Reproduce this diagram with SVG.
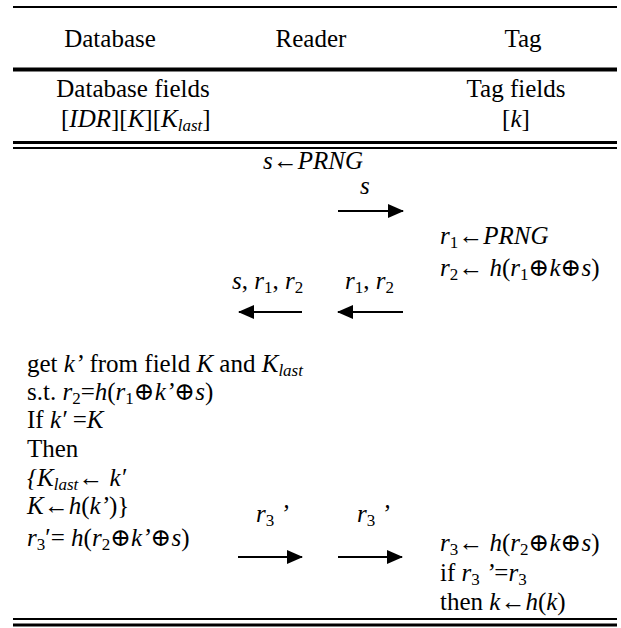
<svg xmlns="http://www.w3.org/2000/svg" width="621" height="628" viewBox="0 0 621 628">
<style>
text{font-size:25px;fill:#000}
.i{font-style:italic}
.sub{font-size:17px}
.rule{stroke:#000}
.arr{stroke:#000;stroke-width:2;fill:none}
</style>
<defs>
<marker id="ah" viewBox="0 0 16 14" refX="15" refY="7" markerWidth="16" markerHeight="14" markerUnits="userSpaceOnUse" orient="auto">
<path d="M0,0 L16,7 L0,14 z" fill="#000"/>
</marker>
</defs>
<rect width="621" height="628" fill="#fff"/>
<g id="rules">
<line class="rule" x1="13" y1="7" x2="617" y2="7" stroke-width="2"/>
<line class="rule" x1="13" y1="69.5" x2="617" y2="69.5" stroke-width="4"/>
<line class="rule" x1="13" y1="142.5" x2="617" y2="142.5" stroke-width="3"/>
<line class="rule" x1="13" y1="148" x2="617" y2="148" stroke-width="2"/>
<line class="rule" x1="13" y1="619" x2="617" y2="619" stroke-width="2"/>
<line class="rule" x1="13" y1="625" x2="617" y2="625" stroke-width="3"/>
</g>
<g font-family="Liberation Serif, Tinos, Times New Roman, Noto Serif, DejaVu Serif, serif">
<g id="header">
<text x="110" y="47" text-anchor="middle">Database</text>
<text x="311" y="47" text-anchor="middle">Reader</text>
<text x="523" y="47" text-anchor="middle">Tag</text>
</g>
<g id="database-fields">
<text x="133" y="97" text-anchor="middle">Database fields</text>
<text x="61" y="127">[<tspan class="i">IDR</tspan>][<tspan class="i">K</tspan>][<tspan class="i">K</tspan><tspan class="i sub" dy="4">last</tspan><tspan dy="-4">]</tspan></text>
</g>
<g id="tag-fields">
<text x="516" y="97" text-anchor="middle">Tag fields</text>
<text x="516" y="127" text-anchor="middle">[<tspan class="i">k</tspan>]</text>
</g>
<g id="reader-init">
<text x="263" y="169" class="i">s←PRNG</text>
</g>
<g id="tag-step1">
<text x="440" y="244"><tspan class="i">r</tspan><tspan class="sub" dy="4">1</tspan><tspan class="i" dy="-4">←PRNG</tspan></text>
<text x="440" y="276"><tspan class="i">r</tspan><tspan class="sub" dy="4">2</tspan><tspan dy="-4">← </tspan><tspan class="i">h</tspan>(<tspan class="i">r</tspan><tspan class="sub" dy="4">1</tspan><tspan dy="-4">⊕</tspan><tspan class="i">k</tspan>⊕<tspan class="i">s</tspan>)</text>
</g>
<g id="database-step">
<text x="27" y="372">get <tspan class="i">k’</tspan> from field <tspan class="i">K</tspan> and <tspan class="i">K</tspan><tspan class="i sub" dy="4">last</tspan></text>
<text x="27" y="400">s.t. <tspan class="i">r</tspan><tspan class="sub" dy="4">2</tspan><tspan dy="-4">=</tspan><tspan class="i">h</tspan>(<tspan class="i">r</tspan><tspan class="sub" dy="4">1</tspan><tspan dy="-4">⊕</tspan><tspan class="i">k’</tspan>⊕<tspan class="i">s</tspan>)</text>
<text x="27" y="428">If <tspan class="i">k′</tspan> =<tspan class="i">K</tspan></text>
<text x="27" y="457">Then</text>
<text x="27" y="486"><tspan class="i">{K</tspan><tspan class="i sub" dy="4">last</tspan><tspan dy="-4">← </tspan><tspan class="i">k′</tspan></text>
<text x="27" y="514"><tspan class="i">K</tspan>←<tspan class="i">h</tspan>(<tspan class="i">k’</tspan>)}</text>
<text x="27" y="546"><tspan class="i">r</tspan><tspan class="sub" dy="4">3</tspan><tspan dy="-4">′= </tspan><tspan class="i">h</tspan>(<tspan class="i">r</tspan><tspan class="sub" dy="4">2</tspan><tspan dy="-4">⊕</tspan><tspan class="i">k’</tspan>⊕<tspan class="i">s</tspan>)</text>
</g>
<g id="tag-step2">
<text x="440" y="551"><tspan class="i">r</tspan><tspan class="sub" dy="4">3</tspan><tspan dy="-4">← </tspan><tspan class="i">h</tspan>(<tspan class="i">r</tspan><tspan class="sub" dy="4">2</tspan><tspan dy="-4">⊕</tspan><tspan class="i">k</tspan>⊕<tspan class="i">s</tspan>)</text>
<text x="440" y="581">if <tspan class="i">r</tspan><tspan class="sub" dy="4">3</tspan><tspan class="i" dy="-4"> ’</tspan>=<tspan class="i">r</tspan><tspan class="sub" dy="4">3</tspan></text>
<text x="440" y="610">then <tspan class="i">k</tspan>←<tspan class="i">h</tspan>(<tspan class="i">k</tspan>)</text>
</g>
<g id="connectors">
<line class="arr" x1="338" y1="211" x2="403" y2="211" marker-end="url(#ah)"/>
<text x="360" y="194" class="i">s</text>
<line class="arr" x1="302" y1="312" x2="239" y2="312" marker-end="url(#ah)"/>
<text x="232" y="289"><tspan class="i">s</tspan>, <tspan class="i">r</tspan><tspan class="sub" dy="4">1</tspan><tspan dy="-4">, </tspan><tspan class="i">r</tspan><tspan class="sub" dy="4">2</tspan></text>
<line class="arr" x1="403" y1="312" x2="338" y2="312" marker-end="url(#ah)"/>
<text x="345" y="289"><tspan class="i">r</tspan><tspan class="sub" dy="4">1</tspan><tspan dy="-4">, </tspan><tspan class="i">r</tspan><tspan class="sub" dy="4">2</tspan></text>
<line class="arr" x1="238" y1="557" x2="302" y2="557" marker-end="url(#ah)"/>
<text x="256" y="522"><tspan class="i">r</tspan><tspan class="sub" dy="4">3</tspan><tspan class="i" dy="-4"> ’</tspan></text>
<line class="arr" x1="338" y1="557" x2="402" y2="557" marker-end="url(#ah)"/>
<text x="357" y="522"><tspan class="i">r</tspan><tspan class="sub" dy="4">3</tspan><tspan class="i" dy="-4"> ’</tspan></text>
</g>
</g>
</svg>
